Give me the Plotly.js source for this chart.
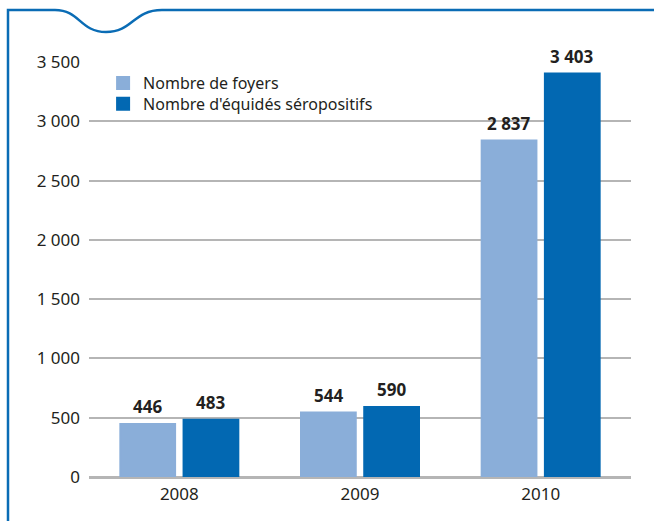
<!DOCTYPE html>
<html><head><meta charset="utf-8">
<script src="https://cdn.plot.ly/plotly-3.0.1.min.js"></script>
<style>html,body{margin:0;padding:0;background:#fff}#c{width:654px;height:521px}</style>
</head><body><div id="c"></div>
<script>
const years = ["2008", "2009", "2010"];
const foyers = [446, 544, 2837];
const equides = [483, 590, 3403];
const seriesNames = ["Nombre de foyers", "Nombre d'équidés séropositifs"];
const yTicks = [0, 500, 1000, 1500, 2000, 2500, 3000, 3500];

const FONT = "Noto Sans, Open Sans, sans-serif";
const TXT = "#231f20";
const LIGHT = "#8aaed9";
const DARK = "#0268b2";

function fmt(v){ return String(v).replace(/\B(?=(\d{3})+(?!\d))/g, " "); }

const traces = [
  {type:"bar", name:seriesNames[0], x:years, y:foyers, legend:"legend",
   marker:{color:LIGHT, line:{color:LIGHT, width:2}}, hoverinfo:"skip"},
  {type:"bar", name:seriesNames[1], x:years, y:equides, legend:"legend2",
   marker:{color:DARK, line:{color:DARK, width:2}}, hoverinfo:"skip"}
];

const ann = [];
[foyers, equides].forEach((s, k) => {
  s.forEach((v, i) => ann.push({
    x: i, y: v, xref:"x", yref:"y", text:"<b>"+fmt(v)+"</b>", showarrow:false,
    xshift: k===0 ? -31.5 : 31.5, yanchor:"bottom", yshift:4,
    font:{family:FONT, size:17, color:TXT}
  }));
});

// frame with wave, pixel coords relative to plot top-left
const px = x => x - 89, py = y => 62 - y;
const framePath = `M ${px(8)},${py(530)} L ${px(8)},${py(10)} L ${px(55)},${py(10)} ` +
  `C ${px(80)},${py(10)} ${px(80)},${py(32)} ${px(106)},${py(32)} ` +
  `C ${px(133)},${py(32)} ${px(133)},${py(10)} ${px(162)},${py(10)} L ${px(670)},${py(10)}`;

const legBase = {xanchor:"left", yanchor:"top", bgcolor:"rgba(0,0,0,0)",
  font:{family:FONT, size:16, color:TXT}, tracegroupgap:0};

const layout = {
  width:654, height:521,
  margin:{l:89, r:23, t:62, b:44},
  paper_bgcolor:"#fff", plot_bgcolor:"#fff",
  barmode:"group", bargap:0.30, bargroupgap:0.134,
  showlegend:true,
  legend:Object.assign({x:0.026, y:0.990}, legBase),
  legend2:Object.assign({x:0.026, y:0.940}, legBase),
  xaxis:{type:"category", range:[-0.5,2.5], showgrid:false, zeroline:false, showline:false,
    ticks:"", ticklabelstandoff:5, tickfont:{family:FONT, size:17, color:TXT}, fixedrange:true},
  yaxis:{range:[0,3500], tickvals:yTicks, ticktext:yTicks.map(fmt), showgrid:true,
    gridcolor:"#b5b5b5", gridwidth:1.5, zeroline:true, zerolinecolor:"#b5b5b5", zerolinewidth:2.5,
    showline:false, ticks:"", ticklabelstandoff:8, tickfont:{family:FONT, size:17, color:TXT}, fixedrange:true},
  annotations: ann,
  shapes:[{type:"path", xref:"paper", yref:"paper", xsizemode:"pixel", ysizemode:"pixel",
    xanchor:0, yanchor:1, path:framePath, line:{color:"#0a6cb5", width:2.5}, layer:"above"}]
};
Plotly.newPlot("c", traces, layout, {displayModeBar:false});
</script></body></html>
